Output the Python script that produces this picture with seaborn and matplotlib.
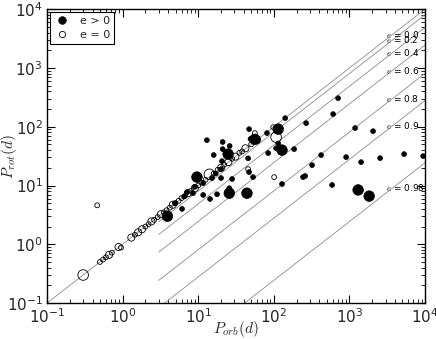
import numpy as np
import pandas as pd
import matplotlib
matplotlib.use("Agg")
import matplotlib.pyplot as plt
from matplotlib.lines import Line2D
import seaborn as sns

# ---- data ----
# eccentric systems (e > 0): orbital period, rotation period, marker size class
ecc_porb = [13, 16, 21, 26, 21, 24.8, 20.6, 45.6, 47, 56, 49, 81, 114, 141, 114, 107,
            128, 84, 185, 267, 607, 706, 1186, 2050, 421, 902, 1422, 2541, 5277, 9420,
            320, 259, 243, 589, 1300, 1820, 128, 53, 47, 28, 25.7, 25.7, 44, 20, 9.6,
            15.2, 11.6, 7.1, 8.5, 11.6, 14.3, 17.7, 6.1, 4.9, 3.9, 17, 20, 9.0, 6.5]
ecc_prot = [59, 33, 55, 47, 41.6, 34.2, 26, 29, 91, 61, 62, 78, 91, 140, 52, 43,
            40, 35.6, 41.6, 115, 164, 306, 95, 84, 32.9, 30.4, 25, 29.2, 34.2, 31.6,
            22.2, 14.5, 13.9, 10.2, 8.4, 6.6, 10.6, 13.9, 16.9, 12.9, 7.4, 9.0, 7.4, 13.4, 13.9,
            13.4, 11, 7.7, 7.4, 6.9, 5.9, 7.1, 4.0, 5.0, 3.0, 16, 19, 9.5, 6.5]
ecc_size = [1, 1, 1, 1, 1, 3, 1, 1, 1, 3, 1, 1, 3, 1, 1, 1,
            3, 1, 1, 1, 1, 1, 1, 1, 1, 1, 1, 1, 1, 1,
            1, 1, 1, 1, 3, 3, 1, 1, 1, 1, 3, 1, 3, 1, 3,
            1, 1, 1, 1, 1, 1, 1, 1, 1, 3, 1, 1, 1, 1]

# circular systems (e = 0)
circ_porb = [0.3, 0.46, 0.5, 0.55, 0.6, 0.66, 0.72, 0.88, 0.95, 1.3, 1.45, 1.6, 1.8, 2.0,
             2.2, 2.4, 2.6, 2.9, 3.2, 3.5, 3.8, 4.2, 4.6, 5.0, 5.5, 6.0, 6.7, 7.3, 8.0,
             9.0, 10.0, 11.0, 12.5, 14.0, 16.0, 18.0, 20.0, 22.0, 25.0, 28.0, 31.0,
             35.0, 38.0, 42.0, 45.6, 50.0, 56.0, 60.0, 98.0, 100.7, 107.0]
circ_prot = [0.3, 4.6, 0.5, 0.55, 0.6, 0.66, 0.72, 0.9, 0.88, 1.3, 1.45, 1.6, 1.8, 2.0,
             2.2, 2.45, 2.6, 2.9, 3.25, 3.5, 3.8, 4.2, 4.7, 5.0, 5.5, 6.1, 6.7, 7.4, 8.1,
             9.0, 10.0, 11.2, 12.5, 15.5, 16.0, 18.5, 20.0, 22.5, 25.0, 28.5, 31.0,
             36.0, 38.0, 43.0, 19.0, 50.0, 78.0, 60.0, 98.0, 13.9, 66.5]
circ_size = [3, 1, 1, 1, 1, 2, 1, 2, 1, 2, 1, 2, 2, 1,
             1, 2, 1, 1, 2, 1, 1, 1, 2, 1, 1, 1, 1, 2, 1,
             2, 1, 1, 1, 3, 1, 1, 2, 1, 2, 1, 2,
             1, 1, 2, 1, 1, 1, 2, 1, 1, 3]

# pseudo-synchronisation lines: eccentricity label, P_rot/P_orb ratio, start P_orb
line_ecc = ["0.0", "0.2", "0.4", "0.6", "0.8", "0.9", "0.98"]
line_ratio = [1.0, 0.805, 0.489, 0.245, 0.0811, 0.0279, 0.00244]
line_start = [0.1, 3, 3, 3, 3, 3, 3]
line_end = 1e4

# ---- styling ----
sns.set_style("ticks")
plt.rcParams["font.family"] = ["DejaVu Sans"]
plt.rcParams["mathtext.fontset"] = "cm"

fig = plt.figure(figsize=(4.36, 3.39), dpi=100)
ax = fig.add_axes([0.108, 0.106, 0.867, 0.867])

for lab, r, xs in zip(line_ecc, line_ratio, line_start):
    lx = np.array([xs, line_end])
    sns.lineplot(x=lx, y=r * lx, ax=ax, color="0.55", lw=0.6, legend=False,
                 estimator=None, sort=False)
    ax.text(3000, r * 3000 * 1.0, "$e$ = " + lab, fontsize=6.5, va="bottom",
            ha="left", color="black")

df_e = pd.DataFrame({"porb": ecc_porb, "prot": ecc_prot, "sz": ecc_size})
df_c = pd.DataFrame({"porb": circ_porb, "prot": circ_prot, "sz": circ_size})
size_map = {1: 12, 2: 26, 3: 58}

sns.scatterplot(data=df_c, x="porb", y="prot", size="sz", sizes=size_map,
                color="k", facecolor="none", edgecolor="k", linewidth=0.6,
                legend=False, ax=ax, zorder=3)
sns.scatterplot(data=df_e, x="porb", y="prot", size="sz", sizes=size_map,
                color="k", edgecolor="k", linewidth=0.5,
                legend=False, ax=ax, zorder=4)

ax.set_xscale("log")
ax.set_yscale("log")
ax.set_xlim(0.1, 1e4)
ax.set_ylim(0.1, 1e4)

ax.tick_params(which="both", direction="in", top=True, right=True, labelsize=11,
               color="black", pad=3)
ax.tick_params(which="major", length=6, width=0.8)
ax.tick_params(which="minor", length=3, width=0.6)
ax.xaxis.set_minor_locator(matplotlib.ticker.LogLocator(base=10, subs=np.arange(2, 10), numticks=20))
ax.yaxis.set_minor_locator(matplotlib.ticker.LogLocator(base=10, subs=np.arange(2, 10), numticks=20))
for sp in ax.spines.values():
    sp.set_color("black")
    sp.set_linewidth(1.0)

ax.set_xlabel("$P_{orb}(d)$", fontsize=11)
ax.set_ylabel("$P_{rot}(d)$", fontsize=11)
ax.xaxis.set_label_coords(0.5, -0.055)
ax.yaxis.set_label_coords(-0.075, 0.5)

handles = [
    Line2D([], [], marker="o", ls="none", color="k", markersize=5.5, markeredgewidth=0.5),
    Line2D([], [], marker="o", ls="none", markerfacecolor="none", markeredgecolor="k",
           markersize=4.5, markeredgewidth=0.6),
]
leg = ax.legend(handles, ["e > 0", "e = 0"], loc="upper left", fontsize=8,
                frameon=True, fancybox=False, edgecolor="black", framealpha=1,
                borderpad=0.35, handletextpad=0.9, labelspacing=0.3,
                borderaxespad=0.3, handlelength=1.4)
leg.get_frame().set_linewidth(0.8)

fig.savefig("out.png", dpi=100)
